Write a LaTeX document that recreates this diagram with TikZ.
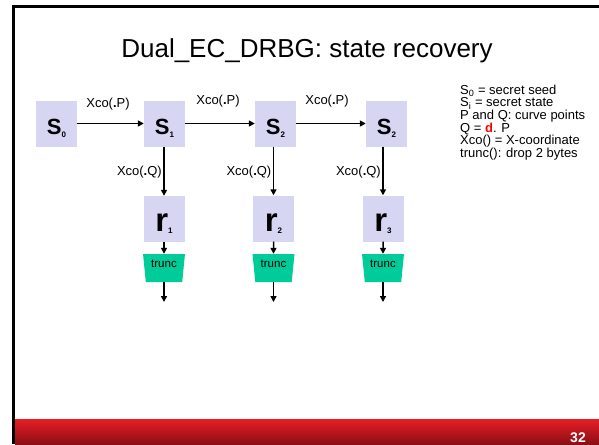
\documentclass[tikz,border=0pt]{standalone}
\usepackage{fontspec}
\setmainfont{Liberation Sans}
\usetikzlibrary{shapes.geometric,arrows.meta}

\definecolor{boxfill}{RGB}{214,214,243}
\definecolor{truncfill}{RGB}{0,204,153}
\definecolor{barred}{RGB}{232,28,36}
\definecolor{bardark}{RGB}{138,16,22}
\definecolor{keyred}{RGB}{255,0,0}

% bold register name with a small bold index set slightly below the baseline
\newcommand\reglabel[4]{{\fontsize{#2}{#2}\selectfont\bfseries #1}\raisebox{-#4pt}{\fontsize{8}{8}\selectfont\bfseries #3}}

\begin{document}
\begin{tikzpicture}[x=1pt,y=-1pt,
  regbox/.style={fill=boxfill, minimum width=41pt, minimum height=46pt, inner sep=0pt},
  sbox/.style={regbox, text height=22pt, text depth=0pt},
  rbox/.style={regbox, text height=25.4pt, text depth=0pt},
  truncbox/.style={trapezium, shape border rotate=180, trapezium stretches=true,
    trapezium angle=79, fill=truncfill, minimum width=42pt, minimum height=28pt,
    inner sep=0pt, font=\fontsize{11.5}{11.5}\selectfont, text height=4pt, text depth=6pt},
  flow/.style={line width=1.5pt, -{Triangle[length=6pt,width=6pt]}},
  edgelbl/.style={font=\fontsize{13}{13}\selectfont, inner sep=0pt},
]

\useasboundingbox (0,0) rectangle (599,444);

% slide frame and footer bar
\fill[black] (12,5) rectangle (599,8);
\fill[black] (12,5) rectangle (15,444);
\shade[top color=barred, middle color=barred!80!bardark, bottom color=bardark] (15,419) rectangle (599,444);
\node[anchor=base east, inner sep=0pt, text=white, font=\fontsize{14}{14}\selectfont\bfseries] (pageno) at (586,442.5) {32};

% title
\node[anchor=base, inner sep=0pt, font=\fontsize{26}{26}\selectfont] (title) at (307,58) {Dual\_EC\_DRBG: state recovery};

% state registers
\node[sbox] (s0) at (56.5,123.5) {\reglabel{S}{22}{0}{3}};
\node[sbox] (s1) at (164.5,123.5) {\reglabel{S}{22}{1}{3}};
\node[sbox] (s2) at (275.5,123.5) {\reglabel{S}{22}{2}{3}};
\node[sbox] (s3) at (386.5,123.5) {\reglabel{S}{22}{2}{3}};

% output registers
\node[rbox] (r1) at (164,219) {\reglabel{r}{33}{1}{2}};
\node[rbox] (r2) at (273.5,218.5) {\reglabel{r}{33}{2}{2}};
\node[rbox] (r3) at (383,218.5) {\reglabel{r}{33}{3}{2}};

% truncation stages
\node[truncbox] (t1) at (164,268) {trunc};
\node[truncbox] (t2) at (273.5,268) {trunc};
\node[truncbox] (t3) at (383,268) {trunc};
\coordinate (o1) at (164,302);
\coordinate (o2) at (273.5,302);
\coordinate (o3) at (383,302);

% state update chain
\draw[flow] (s0) -- (s1);
\draw[flow] (s1) -- (s2);
\draw[flow] (s2) -- (s3);
\node[edgelbl, anchor=base] (p1) at (108,107.5) {Xco(\textbf{.}P)};
\node[edgelbl, anchor=base] (p2) at (218,104.5) {Xco(\textbf{.}P)};
\node[edgelbl, anchor=base] (p3) at (327,104.5) {Xco(\textbf{.}P)};

% output path
\draw[flow] (s1.south -| r1.north) -- (r1.north);
\draw[flow] (s2.south -| r2.north) -- (r2.north);
\draw[flow] (s3.south -| r3.north) -- (r3.north);
\node[edgelbl, anchor=base east] (q1) at (162,175) {Xco(\textbf{.}Q)};
\node[edgelbl, anchor=base east] (q2) at (271.5,175) {Xco(\textbf{.}Q)};
\node[edgelbl, anchor=base east] (q3) at (381,175) {Xco(\textbf{.}Q)};

\draw[flow] (r1) -- (t1);
\draw[flow] (r2) -- (t2);
\draw[flow] (r3) -- (t3);
\draw[flow] (t1) -- (o1);
\draw[flow] (t2) -- (o2);
\draw[flow] (t3) -- (o3);

% key (anchored on the baseline of its last line)
\node[anchor=base west, align=left, inner sep=0pt, font=\fontsize{13}{12.7}\selectfont] (key) at (460,157.5)
  {S\textsubscript{0} = secret seed\\
   S\textsubscript{i} = secret state\\
   P and Q: curve points\\
   Q = \textcolor{keyred}{\textbf{d}}. P\\
   Xco() = X-coordinate\\
   trunc(): drop 2 bytes};

\end{tikzpicture}
\end{document}
